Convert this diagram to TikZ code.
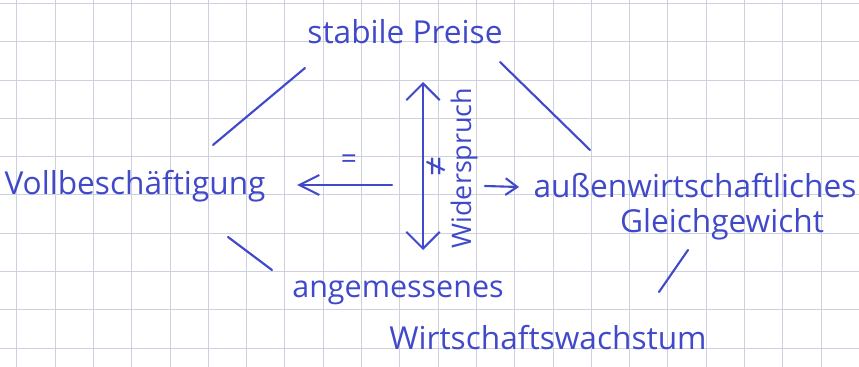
\documentclass[tikz,border=0pt]{standalone}
\usepackage{fontspec}
\setmainfont{Open Sans}
\usetikzlibrary{arrows.meta,positioning,calc}
\definecolor{InkBlue}{HTML}{4049C9}
\definecolor{GridGrey}{HTML}{CDD0DF}
\tikzset{goal/.style={text=InkBlue,inner sep=1pt,font=\fontsize{27}{31}\selectfont},stroke/.style={InkBlue,line width=1.8pt,line cap=round},arr/.style={stroke,-{Straight Barb[length=6mm,width=6mm,line width=1.8pt]}}}

\begin{document}
\begin{tikzpicture}[x=0.03cm,y=-0.03cm]
\useasboundingbox (0,0) rectangle (859,367);
\foreach \i in {0,...,22} \draw[GridGrey,line width=0.6pt] (16.7+38.3*\i,0)--(16.7+38.3*\i,367);
\foreach \j in {0,...,9} \draw[GridGrey,line width=0.6pt] (0,3.3+38.3*\j)--(859,3.3+38.3*\j);
\node[goal] (preise) at (405,32) {stabile Preise};
\node[goal] (voll) at (135,186) {Vollbeschäftigung};
\node[goal] (aussen) at (695,186) {außenwirtschaftliches};
\node[goal] (gleich) at (722,224) {Gleichgewicht};
\node[goal,font=\fontsize{26}{30}\selectfont] (angem) at (398,293) {angemessenes};
\node[goal] (wachs) at (548,338) {Wirtschaftswachstum};
\node[goal,rotate=90,font=\fontsize{23}{27}\selectfont] (wider) at (464,168) {Widerspruch};
\node[goal,font=\fontsize{24}{28}\selectfont] (gleichz) at (349,162) {=};
\node[goal,rotate=90,font=\fontsize{30}{34}\selectfont] (ungl) at (437,166) {≠};
\coordinate (m1) at (392,185); \coordinate (m2) at (297,185);
\coordinate (m3) at (423,82); \coordinate (m4) at (423,250);
\coordinate (m5) at (485,186); \coordinate (m6) at (519,187);
\coordinate (l1) at (213,145); \coordinate (l2) at (305,68);
\coordinate (l3) at (500,62); \coordinate (l4) at (590,150);
\coordinate (l5) at (228,237); \coordinate (l6) at (272,270);
\coordinate (l7) at (688,250); \coordinate (l8) at (659,292);
\draw[arr] (m1)--(m2); \draw[arr,{Straight Barb[length=5mm,width=10mm,line width=1.8pt]}-{Straight Barb[length=5mm,width=10mm,line width=1.8pt]}] (m3)--(m4);
\draw[arr,-{Straight Barb[length=3.5mm,width=5mm,line width=1.8pt]}] (m5)--(m6);
\draw[stroke] (l1)--(l2); \draw[stroke] (l3)--(l4); \draw[stroke] (l5)--(l6); \draw[stroke] (l7)--(l8);
\end{tikzpicture}
\end{document}
